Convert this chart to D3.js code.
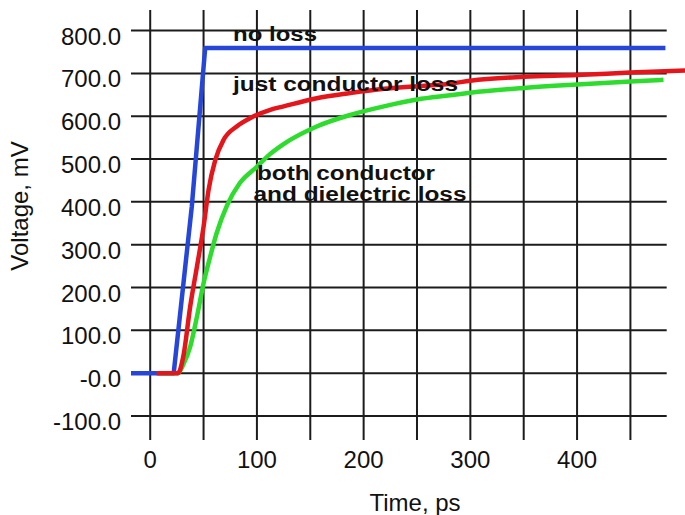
<!DOCTYPE html>
<html>
<head>
<meta charset="utf-8">
<script src="https://cdn.jsdelivr.net/npm/d3@7"></script>
<style>
  html, body { margin: 0; padding: 0; background: #fff; }
  svg { display: block; }
  text { font-family: "Liberation Sans", Arial, Helvetica, sans-serif; fill: #111; }
</style>
</head>
<body>
<svg id="chart" width="685" height="515"></svg>
<script>
// Step response of a transmission line: time in ps, voltage in mV
const noLossT = [-18, 22, 39, 51.5, 482.8];
const noLossV = [0, 0, 390, 759, 759];

const conductorT = [6, 26, 31, 37.5, 43.8, 50, 54.7, 61, 68.8, 81, 94, 112.5, 125, 156, 187.5, 219, 250, 281, 300, 350, 400, 450, 502];
const conductorV = [0, 0, 39, 156, 249, 342, 428, 498, 545, 576, 596, 615, 623, 642, 654, 664, 670, 676, 683, 692, 696, 702, 707];

const bothT = [8, 26, 31, 37.5, 43.8, 50, 56, 62, 72, 84, 100, 112.5, 125, 156, 187.5, 219, 250, 281, 300, 350, 400, 450, 481];
const bothV = [0, 0, 20, 62, 132, 210, 270, 325, 392, 444, 482, 512, 535, 576, 603, 623, 639, 649, 655, 666, 674, 681, 685];

const xGridTicks = [0, 50, 100, 150, 200, 250, 300, 350, 400, 450];
const xLabelTicks = [0, 100, 200, 300, 400];
const yTicks = [-100, 0, 100, 200, 300, 400, 500, 600, 700, 800];
const yTickLabels = ["-100.0", "-0.0", "100.0", "200.0", "300.0", "400.0", "500.0", "600.0", "700.0", "800.0"];

const svg = d3.select("#chart");

const x = d3.scaleLinear().domain([-18, 484]).range([131, 666.7]);
const y = d3.scaleLinear().domain([-156, 848]).range([440, 10]);

// grid
const grid = svg.append("g").attr("stroke", "#1c1c1c").attr("stroke-width", 2);
grid.selectAll("line.v").data(xGridTicks).join("line")
  .attr("class", "v")
  .attr("x1", d => x(d)).attr("x2", d => x(d))
  .attr("y1", y(848)).attr("y2", y(-156));
grid.selectAll("line.h").data(yTicks).join("line")
  .attr("class", "h")
  .attr("x1", x(-18)).attr("x2", x(484))
  .attr("y1", d => y(d)).attr("y2", d => y(d));

// tick labels
svg.append("g").selectAll("text").data(yTicks).join("text")
  .attr("x", 121)
  .attr("y", d => y(d) + 14)
  .attr("text-anchor", "end")
  .attr("font-size", 24)
  .text((d, i) => yTickLabels[i]);

svg.append("g").selectAll("text").data(xLabelTicks).join("text")
  .attr("x", d => x(d))
  .attr("y", 468)
  .attr("text-anchor", "middle")
  .attr("font-size", 24)
  .text(d => d);

// axis titles
svg.append("text")
  .attr("x", 415).attr("y", 511)
  .attr("text-anchor", "middle")
  .attr("font-size", 24)
  .text("Time, ps");

svg.append("text")
  .attr("transform", "translate(28,206) rotate(-90)")
  .attr("text-anchor", "middle")
  .attr("font-size", 24)
  .text("Voltage, mV");

// curves
const series = [
  { t: noLossT, v: noLossV, color: "#2546d8", curve: d3.curveLinear },
  { t: bothT, v: bothV, color: "#2ddc2d", curve: d3.curveMonotoneX },
  { t: conductorT, v: conductorV, color: "#e4161c", curve: d3.curveMonotoneX }
];

series.forEach(s => {
  const pts = s.t.map((t, i) => [t, s.v[i]]);
  svg.append("path")
    .datum(pts)
    .attr("fill", "none")
    .attr("stroke", s.color)
    .attr("stroke-width", 4.5)
    .attr("stroke-linejoin", "round")
    .attr("d", d3.line().x(d => x(d[0])).y(d => y(d[1])).curve(s.curve));
});

// curve annotations
const notes = [
  { text: "no loss", x: 233, y: 41, w: 84, size: 21 },
  { text: "just conductor loss", x: 233, y: 91, w: 225, size: 21 },
  { text: "both conductor", x: 257, y: 180, w: 178, size: 20 },
  { text: "and dielectric loss", x: 253.5, y: 201, w: 213, size: 20 }
];
svg.append("g").selectAll("text").data(notes).join("text")
  .attr("x", d => d.x)
  .attr("y", d => d.y)
  .attr("font-size", d => d.size)
  .attr("font-weight", "bold")
  .attr("textLength", d => d.w)
  .attr("lengthAdjust", "spacingAndGlyphs")
  .text(d => d.text);
</script>
</body>
</html>
